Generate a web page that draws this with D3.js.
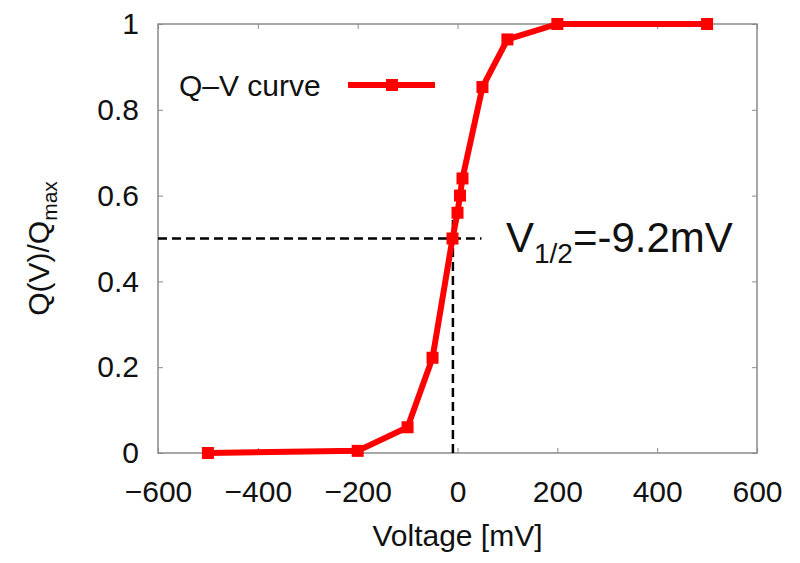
<!DOCTYPE html>
<html><head><meta charset="utf-8">
<script src="https://cdn.jsdelivr.net/npm/d3@7"></script>
<style>body{margin:0;background:#fff}svg{display:block;font-family:"Liberation Sans",Arial,sans-serif}</style>
</head><body>
<svg id="c" width="800" height="563"></svg>
<script>
const voltages = [-500, -200, -100, -50, -10, 0, 5, 10, 50, 100, 200, 500];
const charge   = [0, 0.005, 0.06, 0.222, 0.50, 0.56, 0.60, 0.64, 0.853, 0.964, 1.0, 1.0];
const xTicks = [-600, -400, -200, 0, 200, 400, 600];
const yTicks = [0, 0.2, 0.4, 0.6, 0.8, 1];
const vHalf = -9.2;
const seriesName = "Q\u2013V curve";

const svg = d3.select("#c");
const L = 158, R = 757, T = 24, B = 453;
const x = d3.scaleLinear().domain([-600, 600]).range([L, R]);
const y = d3.scaleLinear().domain([0, 1]).range([B, T]);
const data = voltages.map((v, i) => ({v, q: charge[i]}));
const frameColor = "#8a8a8a";
const FS = 30;

// axes
const fmtX = d => d < 0 ? "\u2212" + Math.abs(d) : String(d);
const gx = svg.append("g").attr("transform", `translate(0,${B})`)
  .call(d3.axisBottom(x).tickValues(xTicks).tickSizeInner(-5).tickSizeOuter(0).tickPadding(28).tickFormat(fmtX));
const gy = svg.append("g").attr("transform", `translate(${L},0)`)
  .call(d3.axisLeft(y).tickValues(yTicks).tickSizeInner(-5).tickSizeOuter(0).tickPadding(19).tickFormat(d3.format("")));
const gt = svg.append("g").attr("transform", `translate(0,${T})`)
  .call(d3.axisTop(x).tickValues(xTicks).tickSizeInner(-5).tickSizeOuter(0).tickFormat(""));
const gr = svg.append("g").attr("transform", `translate(${R},0)`)
  .call(d3.axisRight(y).tickValues(yTicks).tickSizeInner(-5).tickSizeOuter(0).tickFormat(""));
[gx, gy, gt, gr].forEach(g => {
  g.select(".domain").remove();
  g.selectAll(".tick line").attr("stroke", frameColor).attr("stroke-width", 1);
  g.selectAll(".tick text").attr("font-size", FS).attr("fill", "#111").attr("font-family", "Liberation Sans, Arial, sans-serif");
});
svg.append("rect").attr("x", L).attr("y", T).attr("width", R - L).attr("height", B - T)
  .attr("fill", "none").attr("stroke", frameColor).attr("stroke-width", 1.5);

// dashed guide lines
svg.append("line").attr("x1", L).attr("x2", x(48)).attr("y1", y(0.5)).attr("y2", y(0.5))
  .attr("stroke", "#000").attr("stroke-width", 2.5).attr("stroke-dasharray", "9,5");
svg.append("line").attr("x1", x(vHalf)).attr("x2", x(vHalf)).attr("y1", B).attr("y2", y(0.55))
  .attr("stroke", "#000").attr("stroke-width", 2.5).attr("stroke-dasharray", "9,5");

// series
const line = d3.line().x(d => x(d.v)).y(d => y(d.q));
svg.append("path").datum(data).attr("d", line).attr("fill", "none")
  .attr("stroke", "#ff0000").attr("stroke-width", 6).attr("stroke-linejoin", "round");
svg.selectAll("rect.m").data(data).enter().append("rect").attr("class", "m")
  .attr("x", d => x(d.v) - 6).attr("y", d => y(d.q) - 6).attr("width", 12).attr("height", 12)
  .attr("fill", "#ff0000");

// legend
svg.append("text").attr("x", 179).attr("y", 96).attr("font-size", FS).attr("fill", "#111").text(seriesName);
svg.append("line").attr("x1", 348).attr("x2", 435).attr("y1", 85).attr("y2", 85)
  .attr("stroke", "#ff0000").attr("stroke-width", 6);
svg.append("rect").attr("x", 386).attr("y", 79).attr("width", 12).attr("height", 12).attr("fill", "#ff0000");

// annotation
const ann = svg.append("text").attr("x", 506).attr("y", 252).attr("font-size", 42).attr("fill", "#111");
ann.append("tspan").text("V");
ann.append("tspan").attr("font-size", 28).attr("dy", 11).text("1/2");
ann.append("tspan").attr("dy", -11).text("=-9.2mV");

// axis titles
svg.append("text").attr("x", x(0)).attr("y", 546).attr("text-anchor", "middle").attr("font-size", FS).attr("fill", "#111").text("Voltage [mV]");
const yt = svg.append("text").attr("transform", `translate(49,${(T + B) / 2 + 10}) rotate(-90)`)
  .attr("text-anchor", "middle").attr("font-size", FS).attr("fill", "#111");
yt.append("tspan").text("Q(V)/Q");
yt.append("tspan").attr("font-size", 21).attr("dy", 8).text("max");
</script>
</body></html>
